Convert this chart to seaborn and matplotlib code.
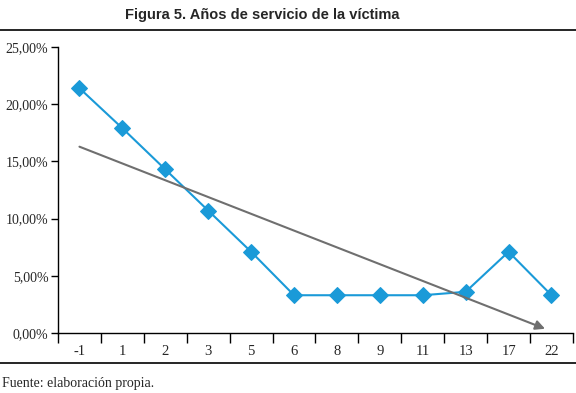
import numpy as np
import pandas as pd
import matplotlib
matplotlib.use('Agg')
import matplotlib.pyplot as plt
import seaborn as sns
from matplotlib.ticker import FuncFormatter, FixedLocator

# Data
years = ['-1', '1', '2', '3', '5', '6', '8', '9', '11', '13', '17', '22']
share = [21.4, 17.9, 14.3, 10.7, 7.1, 3.3, 3.3, 3.3, 3.3, 3.6, 7.1, 3.3]

df = pd.DataFrame({'pos': np.arange(len(years)), 'year': years, 'share': share})

sns.set_style('white')
plt.rcParams['font.family'] = ['Liberation Serif', 'DejaVu Serif']

fig = plt.figure(figsize=(5.76, 3.93), dpi=100)
ax = fig.add_axes([0.1007, 0.1527, 0.894, 0.7277])

blue = '#1a9ad8'
sns.lineplot(x='pos', y='share', data=df, ax=ax, color=blue, linewidth=1.5,
             marker='D', markersize=8.5, markeredgecolor=blue)

# linear trend line with arrow
m, b = np.polyfit(df['pos'], df['share'], 1)
x0, x1 = df['pos'].iloc[0], df['pos'].iloc[-1]
ax.annotate('', xy=(x1 - 0.15, m * (x1 - 0.15) + b), xytext=(x0, m * x0 + b),
            arrowprops=dict(arrowstyle='-|>', color='#6f6f6f', lw=1.5,
                            mutation_scale=14, shrinkA=0, shrinkB=0))

ax.set_xlim(-0.5, len(years) - 0.5)
ax.set_ylim(0, 25)
ax.set_xticks(df['pos'])
ax.set_xticklabels(years)
ax.xaxis.set_minor_locator(FixedLocator(np.arange(-0.5, len(years), 1)))
ax.tick_params(axis='x', which='major', length=0, pad=9, labelsize=10.5)
ax.tick_params(axis='x', which='minor', length=7, width=1, direction='out', color='black', bottom=True)
ax.set_yticks(np.arange(0, 26, 5))
ax.yaxis.set_major_formatter(FuncFormatter(lambda v, p: f'{v:.2f}'.replace('.', ',') + '%'))
ax.tick_params(axis='y', length=5, width=1, direction='out', color='black', left=True, labelsize=10, pad=2)
ax.set_xlabel('')
ax.set_ylabel('')
for s in ['top', 'right']:
    ax.spines[s].set_visible(False)
for s in ['left', 'bottom']:
    ax.spines[s].set_color('black')
    ax.spines[s].set_linewidth(1)

fig.text(0.455, 0.961, 'Figura 5. Años de servicio de la víctima', ha='center', va='center',
         fontsize=10.5, fontweight='bold', family='Liberation Sans')
fig.add_artist(plt.Line2D([0, 1], [1 - 30 / 393, 1 - 30 / 393], color='black', lw=1.2))
fig.add_artist(plt.Line2D([0, 1], [1 - 363 / 393, 1 - 363 / 393], color='black', lw=1.2))
fig.text(0.004, 1 - 383 / 393, 'Fuente: elaboración propia.', ha='left', va='center', fontsize=10)

fig.savefig('out.png', dpi=100)
